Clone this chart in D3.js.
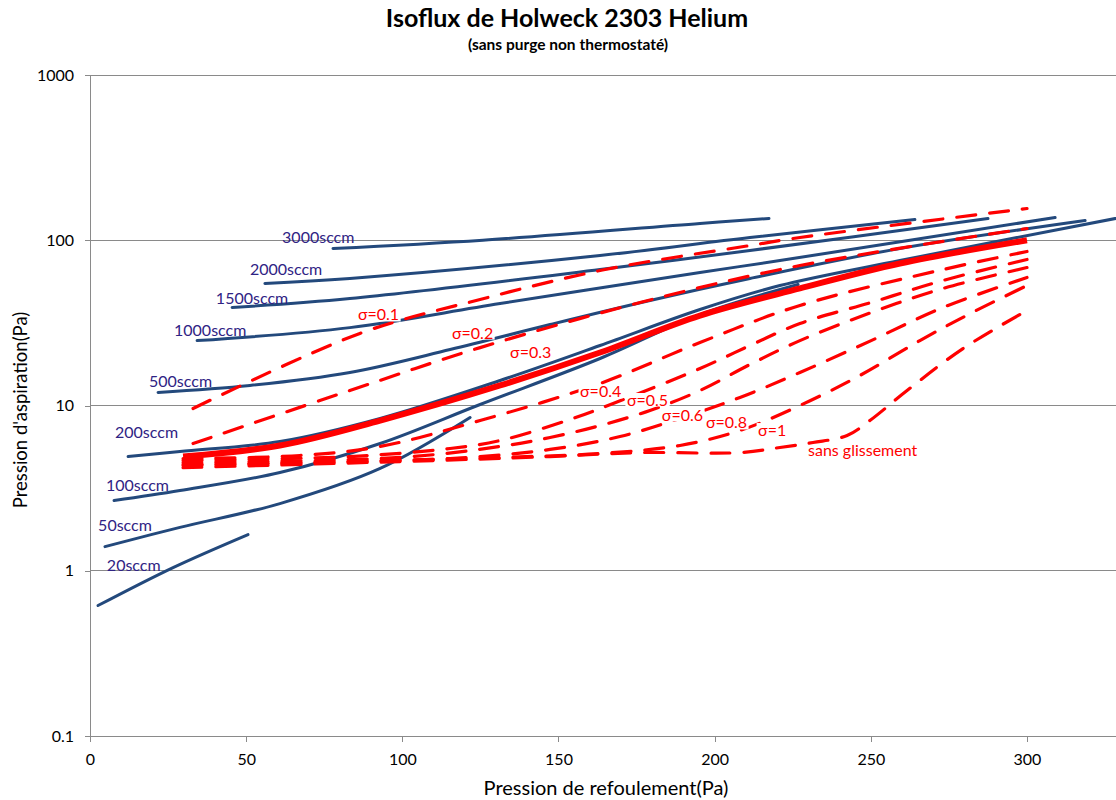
<!DOCTYPE html>
<html><head><meta charset="utf-8">
<script src="https://cdn.jsdelivr.net/npm/d3@7"></script>
<style>body{margin:0;background:#fff;} svg{display:block;}</style>
</head><body><svg id="chart" width="1116" height="800"></svg>
<script>
// ---------- DATA ----------
const xTicks = [0, 50, 100, 150, 200, 250, 300];
const yTicks = [0.1, 1, 10, 100, 1000];
const yTickLabels = ["0.1", "1", "10", "100", "1000"];

// Isoflux (blue) curves: [Pression de refoulement, Pression d'aspiration]
const flow3000 = [[77.8,89.1],[125.8,100],[195.3,126.3],[217.4,135.4]];
const flow2000 = [[56.0,54.7],[83.2,58.7],[163.3,80.9],[211.3,103.9],[264.1,133.5]];
const flow1500 = [[45.5,39.2],[83.2,44.4],[163.3,66.5],[211.3,86.7],[287.5,135.4]];
const flow1000 = [[34.3,24.7],[83.2,29.6],[131.3,41.4],[195.3,63.8],[220.9,75.4],[309.0,137.3]];
const flow500  = [[21.8,12.0],[51.2,13.22],[83.2,15.84],[115.3,21.8],[147.3,30.9],[179.3,43.2],[211.3,58.7],[259.3,89.1],[318.6,131.7]];
const flow200  = [[12.2,4.91],[28.8,5.27],[60.8,6.05],[92.9,8.35],[131.3,14.17],[163.3,23.07],[195.3,38.1],[220.9,53.2],[259.3,75.4],[335,143.2]];
const flow100  = [[7.7,2.66],[28.8,3.06],[60.8,3.93],[92.9,5.89],[124.9,10.14],[163.3,19.25],[195.3,35.5],[226.7,54.0]];
const flow50   = [[4.8,1.40],[28.8,1.83],[60.8,2.55],[92.9,4.16],[121.7,8.46]];
const flow20   = [[2.56,0.616],[26.6,1.046],[50.6,1.657]];

// Slip coefficient (red) curves
const sigma01 = [[33.0,9.59],[86.4,27.3],[124.9,43.8],[164.9,66.5],[211.3,92.9],[227.3,103.9],[300,155.6]];
const sigma02 = [[33.0,5.89],[83.2,12.32],[124.9,22.4],[176.1,42.0],[227.3,70.3],[300,117.8]];
const sigma03 = [[29.8,4.91],[60.8,5.73],[92.9,8.11],[131.3,13.22],[163.3,20.93],[195.3,35.0],[227.3,51.1],[259.3,72.3],[300,100]];
const sigma04 = [[29.8,4.78],[67.2,4.98],[92.9,5.65],[124.9,8.11],[163.3,13.59],[195.3,24.06],[227.3,40.3],[273.1,66.5],[300,85.5]];
const sigma05 = [[29.8,4.65],[83.2,4.91],[115.3,5.49],[131.3,6.14],[153.7,8.23],[167.5,10.28],[195.3,16.74],[211.3,23.07],[227.3,31.35],[250.1,42.0],[273.1,57.1],[300,76.5]];
const sigma06 = [[29.8,4.52],[99.3,4.85],[131.3,5.65],[147.3,6.40],[163.3,7.56],[179.3,9.33],[195.3,12.32],[211.3,17.70],[227.3,24.7],[250.1,36.5],[273.1,51.1],[300,68.4]];
const sigma08 = [[29.8,4.40],[115.3,4.78],[147.3,5.42],[169.7,6.49],[188.9,8.35],[208.1,11.18],[227.3,15.84],[250.1,24.7],[273.1,39.2],[300,59.5]];
const sigma1  = [[29.8,4.33],[131.3,4.85],[163.3,5.12],[188.9,5.73],[208.1,7.06],[227.3,10],[246.5,15.19],[265.7,24.7],[281.8,36.0],[300,53.2]];
const sansGlissement = [[29.8,4.21],[99.3,4.58],[147.3,4.91],[176.1,5.19],[208.1,5.19],[220.9,5.57],[231.5,5.97],[242.4,6.58],[249.7,8.11],[261.6,12.32],[279.5,22.1],[300,37.6]];

const blueSeries = [flow3000, flow2000, flow1500, flow1000, flow500, flow200, flow100, flow50, flow20];
const redDashed = [sigma01, sigma02, sigma04, sigma05, sigma06, sigma08, sigma1, sansGlissement];

// Label texts and anchors (data units)
const blueLabels = [
  ["3000sccm",61.5,96.9],["2000sccm",51.2,61.2],["1500sccm",40.3,41.4],["1000sccm",26.9,26.2],
  ["500sccm",18.9,13.03],["200sccm",8.0,6.40],["100sccm",5.1,3.02],["50sccm",2.6,1.73],["20sccm",5.4,0.99]
];
const sigmaLabels = [
  ["σ=0.1",85.8,32.7],["σ=0.2",115.9,25.4],["σ=0.3",134.5,19.5],["σ=0.4",156.9,11.18],
  ["σ=0.5",171.9,10],["σ=0.6",183.1,8.11],["σ=0.8",197.2,7.26],["σ=1",213.9,6.58]
];
const noSlipLabel = ["sans glissement",229.9,4.98];

const title = "Isoflux de Holweck 2303 Helium";
const subtitle = "(sans purge non thermostaté)";
const xTitle = "Pression de refoulement(Pa)";
const yTitle = "Pression d'aspiration(Pa)";

// ---------- CHART ----------
const FONT = "Lato, 'Open Sans', sans-serif";
const svg = d3.select("#chart");
const x = d3.scaleLinear().domain([0, 328.5]).range([90, 1116]);
const y = d3.scaleLog().domain([0.1, 1000]).range([736, 75]);

svg.append("defs").append("clipPath").attr("id","plotclip")
  .append("rect").attr("x",90).attr("y",60).attr("width",1026).attr("height",680);

// grid
svg.append("g").selectAll("line").data(yTicks).join("line")
  .attr("x1", x(0)).attr("x2", 1116)
  .attr("y1", d => y(d)).attr("y2", d => y(d))
  .attr("stroke", "#8a8a8a").attr("stroke-width", 1).attr("shape-rendering","crispEdges");

// axes
const yAxis = svg.append("g").attr("transform", `translate(${x(0)},0)`)
  .call(d3.axisLeft(y).tickValues(yTicks).tickFormat((d,i)=>yTickLabels[i]).tickSize(5).tickSizeOuter(0).tickPadding(11));
const xAxis = svg.append("g").attr("transform", `translate(0,${y(0.1)})`)
  .call(d3.axisBottom(x).tickValues(xTicks).tickSize(6).tickSizeOuter(0).tickPadding(12));
[xAxis, yAxis].forEach(g => {
  g.selectAll("path.domain").attr("stroke","#8a8a8a").attr("shape-rendering","crispEdges");
  g.selectAll(".tick line").attr("stroke","#8a8a8a").attr("shape-rendering","crispEdges");
  g.selectAll("text").attr("font-family", FONT).attr("font-size", 16).attr("fill","#000");
});
xAxis.select("path.domain").attr("d", `M${x(0)},0H1116`);

const line = d3.line().x(d => x(d[0])).y(d => y(d[1])).curve(d3.curveCatmullRom.alpha(0.5));
const plot = svg.append("g").attr("clip-path","url(#plotclip)");

// blue isoflux
plot.selectAll("path.flow").data(blueSeries).join("path").attr("class","flow")
  .attr("d", line).attr("fill","none").attr("stroke","#23497c").attr("stroke-width",3)
  .attr("stroke-linecap","round");

// red dashed
plot.selectAll("path.sig").data(redDashed).join("path").attr("class","sig")
  .attr("d", line).attr("fill","none").attr("stroke","#ff0000").attr("stroke-width",3.2)
  .attr("stroke-dasharray","19,14").attr("stroke-linecap","round");

// thick red sigma 0.3
plot.append("path").datum(sigma03).attr("d", line).attr("fill","none")
  .attr("stroke","#ff0000").attr("stroke-width",6);

// labels
svg.append("g").selectAll("text").data(blueLabels).join("text")
  .attr("x", d => x(d[1])).attr("y", d => y(d[2])).text(d => d[0])
  .attr("font-family", FONT).attr("font-size", 16).attr("fill","#2f2384");

// sigma labels sit in white-filled text boxes
const sg = svg.append("g");
sigmaLabels.forEach(d => {
  const lg = sg.append("g");
  const t = lg.append("text")
    .attr("x", x(d[1])).attr("y", y(d[2])).text(d[0])
    .attr("font-family", FONT).attr("font-size", 16).attr("fill", "#ff0000");
  const b = t.node().getBBox();
  lg.insert("rect", "text")
    .attr("x", b.x - 1.5).attr("y", y(d[2]) - 12.5).attr("width", b.width + 3).attr("height", 13.5)
    .attr("fill", "#fff");
});
svg.append("text").attr("x", x(noSlipLabel[1])).attr("y", y(noSlipLabel[2])).text(noSlipLabel[0])
  .attr("font-family", FONT).attr("font-size", 16).attr("fill", "#ff0000");

// titles
svg.append("text").attr("x",567).attr("y",27).attr("text-anchor","middle")
  .attr("font-family",FONT).attr("font-weight","bold").attr("font-size",25).text(title);
svg.append("text").attr("x",568).attr("y",50).attr("text-anchor","middle")
  .attr("font-family",FONT).attr("font-weight","bold").attr("font-size",15.5).text(subtitle);
svg.append("text").attr("x",606).attr("y",795).attr("text-anchor","middle")
  .attr("font-family",FONT).attr("font-size",20).text(xTitle);
svg.append("text").attr("transform","translate(27,410) rotate(-90)").attr("text-anchor","middle")
  .attr("font-family",FONT).attr("font-size",18.5).text(yTitle);
</script></body></html>
